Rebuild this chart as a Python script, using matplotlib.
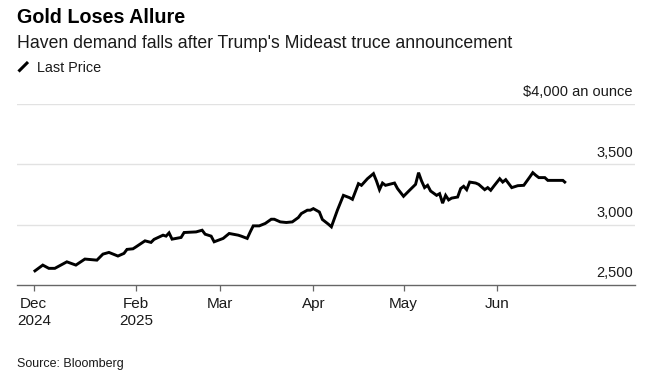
import matplotlib
matplotlib.use("Agg")
import matplotlib.pyplot as plt
import pandas as pd

# ------------------------------------------------------------
# Data
# ------------------------------------------------------------
dates = [
    "2024-12-29", "2025-01-01", "2025-01-03", "2025-01-05", "2025-01-07",
    "2025-01-09", "2025-01-12", "2025-01-15", "2025-01-19", "2025-01-21",
    "2025-01-23", "2025-01-26", "2025-01-28", "2025-01-29", "2025-01-31",
    "2025-02-01", "2025-02-04", "2025-02-06", "2025-02-07", "2025-02-10",
    "2025-02-11", "2025-02-12", "2025-02-13", "2025-02-16", "2025-02-17",
    "2025-02-21", "2025-02-23", "2025-02-24", "2025-02-26", "2025-02-27",
    "2025-03-02", "2025-03-04", "2025-03-07", "2025-03-08", "2025-03-10",
    "2025-03-11", "2025-03-12", "2025-03-14", "2025-03-16", "2025-03-18",
    "2025-03-19", "2025-03-21", "2025-03-23", "2025-03-25", "2025-03-27",
    "2025-03-28", "2025-03-30", "2025-03-31", "2025-04-01", "2025-04-03",
    "2025-04-04", "2025-04-06", "2025-04-07", "2025-04-09", "2025-04-11",
    "2025-04-13", "2025-04-14", "2025-04-16", "2025-04-17", "2025-04-19",
    "2025-04-21", "2025-04-22", "2025-04-23", "2025-04-24", "2025-04-25",
    "2025-04-28", "2025-04-29", "2025-05-01", "2025-05-03", "2025-05-05",
    "2025-05-06", "2025-05-07", "2025-05-08", "2025-05-09", "2025-05-10",
    "2025-05-12", "2025-05-13", "2025-05-14", "2025-05-15", "2025-05-16",
    "2025-05-17", "2025-05-19", "2025-05-20", "2025-05-21", "2025-05-22",
    "2025-05-23", "2025-05-25", "2025-05-26", "2025-05-28", "2025-05-29",
    "2025-05-30", "2025-05-31", "2025-06-02", "2025-06-03", "2025-06-04",
    "2025-06-06", "2025-06-08", "2025-06-10", "2025-06-12", "2025-06-13",
    "2025-06-14", "2025-06-15", "2025-06-17", "2025-06-18", "2025-06-20",
    "2025-06-23", "2025-06-24",
]
prices = [
    2610, 2665, 2638, 2638, 2665,
    2692, 2665, 2715, 2706, 2756,
    2770, 2740, 2762, 2795, 2800,
    2816, 2866, 2853, 2878, 2913,
    2905, 2932, 2880, 2894, 2935,
    2940, 2954, 2921, 2905, 2858,
    2886, 2927, 2913, 2905, 2886,
    2940, 2990, 2990, 3010, 3045,
    3045, 3023, 3018, 3023, 3059,
    3092, 3120, 3120, 3133, 3105,
    3043, 3004, 2982, 3120, 3243,
    3224, 3210, 3340, 3326, 3381,
    3423, 3362, 3290, 3345, 3326,
    3345, 3299, 3235, 3285, 3334,
    3431, 3362, 3307, 3326, 3279,
    3243, 3257, 3178, 3243, 3205,
    3220, 3229, 3299, 3318, 3290,
    3353, 3345, 3334, 3290, 3307,
    3285, 3318, 3381, 3353, 3373,
    3307, 3323, 3326, 3395, 3431,
    3409, 3390, 3390, 3367, 3367,
    3367, 3345,
]

tick_dates = ["2024-12-29", "2025-02-01", "2025-03-01",
              "2025-04-01", "2025-05-01", "2025-06-01"]
tick_labels = ["Dec\n2024", "Feb\n2025", "Mar", "Apr", "May", "Jun"]

y_levels = [2500, 3000, 3500, 4000]
y_labels = ["2,500", "3,000", "3,500", "$4,000 an ounce"]

title = "Gold Loses Allure"
subtitle = "Haven demand falls after Trump's Mideast truce announcement"
legend_label = "Last Price"
source = "Source: Bloomberg"

# ------------------------------------------------------------
# Figure
# ------------------------------------------------------------
plt.rcParams["font.family"] = ["Liberation Sans", "DejaVu Sans"]

W, H = 661, 379
fig = plt.figure(figsize=(W / 100, H / 100), dpi=100)
fig.patch.set_facecolor("white")

# axes box in pixels: left 17, right 635, bottom 285, top 104
ax = fig.add_axes([17 / W, 1 - 285 / H, (635 - 17) / W, (285 - 104) / H])

x = pd.to_datetime(dates)
ax.plot(x, prices, color="black", linewidth=2.1, solid_joinstyle="miter",
        solid_capstyle="butt", zorder=3)

ax.set_ylim(2500, 4000)
ax.set_xlim(pd.Timestamp("2024-12-23 10:00"), pd.Timestamp("2025-07-17"))

# grid lines + right-side labels sitting above them
for lvl, lab in zip(y_levels, y_labels):
    if lvl > y_levels[0]:
        ax.axhline(lvl, color="#e2e2e2", linewidth=1.0, zorder=1)
    ax.annotate(lab, xy=(1.0, lvl), xycoords=ax.get_yaxis_transform(),
                xytext=(-1.5, 5.5), textcoords="offset points",
                ha="right", va="baseline", fontsize=10.5, color="#1a1a1a")

ax.set_yticks([])
for side in ["left", "right", "top"]:
    ax.spines[side].set_visible(False)
ax.spines["bottom"].set_color("#666666")
ax.spines["bottom"].set_linewidth(1.0)

ax.set_xticks(pd.to_datetime(tick_dates))
ax.set_xticklabels(tick_labels, fontsize=11, color="#1a1a1a", linespacing=1.32)
ax.tick_params(axis="x", direction="out", length=4.5, width=0.9,
               color="#666666", pad=4)
for lab in ax.get_xticklabels():
    lab.set_verticalalignment("top")

# header
fig.text(17 / W, 1 - 23 / H, title, fontsize=14.2, fontweight="bold",
         ha="left", va="baseline", color="black")
fig.text(17 / W, 1 - 48 / H, subtitle, fontsize=12.7,
         ha="left", va="baseline", color="#1a1a1a")

# legend key: short slanted stroke
fig.add_artist(plt.Line2D([18.5 / W, 28 / W], [1 - 71.5 / H, 1 - 62 / H],
                          color="black", linewidth=2.2,
                          solid_capstyle="butt"))
fig.text(37 / W, 1 - 72 / H, legend_label, fontsize=10.4,
         ha="left", va="baseline", color="#1a1a1a")

fig.text(17 / W, 1 - 367 / H, source, fontsize=9,
         ha="left", va="baseline", color="#1a1a1a")

fig.savefig("out.png", dpi=100, facecolor="white")
